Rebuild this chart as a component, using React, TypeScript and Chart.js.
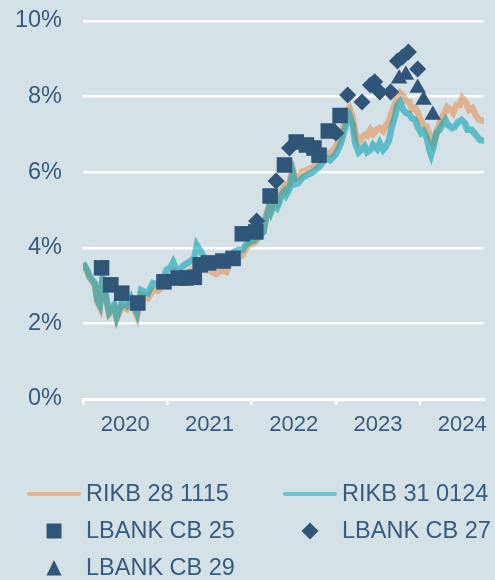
import React, { useEffect, useRef } from 'react';
import { Chart, registerables } from 'chart.js';

Chart.register(...registerables);

// ---------- DATA ----------
const seriesLabels = ['RIKB 28 1115', 'RIKB 31 0124', 'LBANK CB 25', 'LBANK CB 27', 'LBANK CB 29'];
const yearTickLabels = ['2020', '2021', '2022', '2023', '2024'];
const yTickValues = [0, 2, 4, 6, 8, 10];

const rikb28Years = [
  2020.00, 2020.05, 2020.08, 2020.14, 2020.17, 2020.20, 2020.23, 2020.27, 2020.31, 2020.37,
  2020.40, 2020.46, 2020.52, 2020.57, 2020.64, 2020.69, 2020.77, 2020.83, 2020.89, 2020.95,
  2020.99, 2021.04, 2021.07, 2021.12, 2021.20, 2021.26, 2021.32, 2021.35, 2021.40, 2021.44,
  2021.50, 2021.58, 2021.65, 2021.70, 2021.73, 2021.79, 2021.84, 2021.89, 2021.93, 2021.97,
  2022.04, 2022.10, 2022.14, 2022.16, 2022.18, 2022.21, 2022.23, 2022.26, 2022.30, 2022.33,
  2022.36, 2022.39, 2022.41, 2022.45, 2022.47, 2022.49, 2022.52, 2022.55, 2022.60, 2022.66,
  2022.71, 2022.76, 2022.82, 2022.88, 2022.93, 2023.00, 2023.06, 2023.11, 2023.14, 2023.16,
  2023.20, 2023.23, 2023.27, 2023.30, 2023.34, 2023.37, 2023.41, 2023.44, 2023.49, 2023.52,
  2023.56, 2023.59, 2023.63, 2023.66, 2023.70, 2023.73, 2023.76, 2023.80, 2023.83, 2023.87,
  2023.90, 2023.94, 2023.97, 2024.01, 2024.04, 2024.08, 2024.11, 2024.15, 2024.18, 2024.21,
  2024.25, 2024.29, 2024.32, 2024.36, 2024.39, 2024.43, 2024.47, 2024.50, 2024.54, 2024.58,
  2024.62, 2024.66, 2024.70, 2024.76,
];
const rikb28Values = [
  3.58, 3.39, 3.20, 3.02, 2.57, 2.43, 3.04, 2.67, 2.25, 2.41,
  2.12, 2.46, 2.38, 2.59, 2.20, 2.75, 2.67, 2.88, 2.86, 2.99,
  3.20, 3.28, 3.36, 3.20, 3.31, 3.36, 3.47, 3.62, 3.52, 3.41,
  3.41, 3.31, 3.41, 3.36, 3.52, 3.68, 3.73, 3.81, 3.97, 4.07,
  4.15, 4.31, 4.42, 4.68, 4.92, 5.13, 5.00, 5.21, 5.16, 5.32,
  5.53, 5.63, 5.53, 5.69, 5.93, 6.06, 5.85, 5.87, 6.01, 6.06,
  6.11, 6.19, 6.32, 6.53, 6.48, 6.67, 6.96, 7.38, 7.65, 7.70,
  7.43, 7.04, 6.80, 6.90, 6.98, 6.96, 7.12, 7.01, 7.14, 7.17,
  7.09, 7.22, 7.33, 7.57, 7.80, 7.99, 8.10, 8.02, 7.88, 7.86,
  7.67, 7.70, 7.57, 7.35, 7.25, 7.20, 6.98, 6.77, 6.90, 7.17,
  7.41, 7.57, 7.72, 7.65, 7.57, 7.78, 7.78, 7.96, 7.86, 7.65,
  7.70, 7.51, 7.38, 7.35,
];

const rikb31Years = [
  2020.00, 2020.05, 2020.08, 2020.14, 2020.17, 2020.20, 2020.23, 2020.27, 2020.31, 2020.37,
  2020.40, 2020.46, 2020.52, 2020.57, 2020.64, 2020.69, 2020.77, 2020.83, 2020.89, 2020.95,
  2020.99, 2021.04, 2021.07, 2021.12, 2021.20, 2021.26, 2021.32, 2021.35, 2021.40, 2021.44,
  2021.50, 2021.58, 2021.65, 2021.70, 2021.73, 2021.79, 2021.84, 2021.89, 2021.93, 2021.97,
  2022.04, 2022.10, 2022.14, 2022.16, 2022.18, 2022.21, 2022.23, 2022.26, 2022.30, 2022.33,
  2022.36, 2022.39, 2022.41, 2022.45, 2022.47, 2022.49, 2022.52, 2022.55, 2022.60, 2022.66,
  2022.71, 2022.76, 2022.82, 2022.88, 2022.93, 2023.00, 2023.06, 2023.11, 2023.14, 2023.16,
  2023.20, 2023.23, 2023.27, 2023.30, 2023.34, 2023.37, 2023.41, 2023.44, 2023.49, 2023.52,
  2023.56, 2023.59, 2023.63, 2023.66, 2023.70, 2023.73, 2023.76, 2023.80, 2023.83, 2023.87,
  2023.90, 2023.94, 2023.97, 2024.01, 2024.04, 2024.08, 2024.11, 2024.13, 2024.16, 2024.19,
  2024.23, 2024.26, 2024.30, 2024.33, 2024.38, 2024.41, 2024.45, 2024.49, 2024.53, 2024.56,
  2024.61, 2024.64, 2024.68, 2024.71, 2024.76,
];
const rikb31Values = [
  3.60, 3.41, 3.23, 3.07, 2.62, 2.49, 3.17, 2.75, 2.30, 2.49,
  2.17, 2.54, 2.46, 2.67, 2.28, 2.88, 2.80, 3.07, 3.02, 3.17,
  3.41, 3.49, 3.62, 3.36, 3.54, 3.62, 3.73, 4.07, 3.89, 3.73,
  3.68, 3.62, 3.68, 3.60, 3.73, 3.89, 3.94, 3.94, 4.07, 4.15,
  4.21, 4.34, 4.42, 4.68, 4.87, 5.08, 4.95, 5.13, 5.05, 5.21,
  5.42, 5.50, 5.40, 5.56, 5.82, 5.98, 5.69, 5.71, 5.85, 5.93,
  5.98, 6.06, 6.19, 6.38, 6.32, 6.48, 6.77, 7.17, 7.43, 7.51,
  7.25, 6.77, 6.53, 6.59, 6.69, 6.53, 6.59, 6.72, 6.61, 6.77,
  6.59, 6.67, 6.85, 7.17, 7.46, 7.78, 7.86, 7.65, 7.57, 7.54,
  7.43, 7.38, 7.20, 7.04, 7.09, 6.90, 6.59, 6.46, 6.69, 7.04,
  7.12, 7.25, 7.38, 7.25, 7.17, 7.20, 7.33, 7.38, 7.30, 7.12,
  7.12, 7.04, 6.93, 6.85, 6.83,
];

const cb25Years = [
  2020.22, 2020.33, 2020.46, 2020.65, 2020.96, 2021.13, 2021.22, 2021.32, 2021.39, 2021.49,
  2021.66, 2021.78, 2021.89, 2022.05, 2022.22, 2022.39, 2022.53, 2022.65, 2022.74, 2022.80,
  2022.91, 2023.05,
];
const cb25Values = [
  3.47, 3.02, 2.80, 2.54, 3.10, 3.20, 3.20, 3.22, 3.55, 3.60,
  3.65, 3.72, 4.37, 4.42, 5.37, 6.19, 6.80, 6.72, 6.64, 6.45,
  7.09, 7.50,
];

const cb27Years = [
  2022.06, 2022.29, 2022.45, 2023.00, 2023.14, 2023.31, 2023.41, 2023.46, 2023.52, 2023.65,
  2023.73, 2023.79, 2023.86, 2023.97,
];
const cb27Values = [
  4.71, 5.77, 6.64, 7.04, 8.04, 7.86, 8.31, 8.39, 8.12, 8.12,
  8.94, 9.05, 9.18, 8.73,
];

const cb29Years = [2023.75, 2023.83, 2023.97, 2024.04, 2024.15];
const cb29Values = [8.47, 8.57, 8.23, 7.91, 7.51];

// ---------- STYLE ----------
const BG = '#d4e1e7';
const TEXT = '#375b7e';
const MARK = '#2f5679';
const TAN = 'rgba(228, 145, 88, 0.6)';
const TEAL = 'rgba(20, 165, 180, 0.62)';
const TAN_LEGEND = '#dfb495';
const TEAL_LEGEND = '#6fc1cc';
const FONT = '"Liberation Sans", Arial, Helvetica, sans-serif';

const toXY = (xs: number[], ys: number[]) => xs.map((x, i) => ({ x, y: ys[i] }));

const legendPlugin = {
  id: 'customLegend',
  afterDraw(chart: any) {
    const ctx = chart.ctx as CanvasRenderingContext2D;
    const colX = [54, 310];
    const rowY = [494, 531, 568];
    const items = [
      { kind: 'line', color: TAN_LEGEND, col: 0, row: 0 },
      { kind: 'line', color: TEAL_LEGEND, col: 1, row: 0 },
      { kind: 'rect', color: MARK, col: 0, row: 1 },
      { kind: 'diamond', color: MARK, col: 1, row: 1 },
      { kind: 'triangle', color: MARK, col: 0, row: 2 },
    ];
    ctx.save();
    items.forEach((it, i) => {
      const cx = colX[it.col];
      const cy = rowY[it.row];
      ctx.fillStyle = it.color;
      ctx.strokeStyle = it.color;
      if (it.kind === 'line') {
        ctx.lineWidth = 4;
        ctx.lineCap = 'round';
        ctx.beginPath();
        ctx.moveTo(cx - 25, cy);
        ctx.lineTo(cx + 25, cy);
        ctx.stroke();
      } else if (it.kind === 'rect') {
        ctx.fillRect(cx - 7.5, cy - 7.5, 15, 15);
      } else if (it.kind === 'diamond') {
        ctx.beginPath();
        ctx.moveTo(cx, cy - 8.5);
        ctx.lineTo(cx + 8.5, cy);
        ctx.lineTo(cx, cy + 8.5);
        ctx.lineTo(cx - 8.5, cy);
        ctx.closePath();
        ctx.fill();
      } else {
        ctx.beginPath();
        ctx.moveTo(cx, cy - 8);
        ctx.lineTo(cx + 7.5, cy + 7.5);
        ctx.lineTo(cx - 7.5, cy + 7.5);
        ctx.closePath();
        ctx.fill();
      }
      ctx.fillStyle = TEXT;
      ctx.font = `23.5px ${FONT}`;
      ctx.textBaseline = 'middle';
      ctx.textAlign = 'left';
      ctx.fillText(seriesLabels[i], cx + 32, cy + 1);
    });
    ctx.restore();
  },
};

export default function App() {
  const ref = useRef<HTMLCanvasElement | null>(null);

  useEffect(() => {
    document.body.style.margin = '0';
    document.body.style.background = BG;
    const canvas = ref.current;
    if (!canvas) return;
    const xTicks: number[] = [];
    yearTickLabels.forEach((y) => {
      xTicks.push(Number(y));
      xTicks.push(Number(y) + 0.5);
    });

    const chart = new Chart(canvas, {
      type: 'scatter',
      data: {
        datasets: [
          {
            label: seriesLabels[2],
            data: toXY(cb25Years, cb25Values),
            pointStyle: 'rect',
            pointRadius: 11,
            backgroundColor: MARK,
            borderColor: MARK,
            borderWidth: 0,
            order: 0,
          },
          {
            label: seriesLabels[3],
            data: toXY(cb27Years, cb27Values),
            pointStyle: 'rectRot',
            pointRadius: 8.5,
            backgroundColor: MARK,
            borderColor: MARK,
            borderWidth: 0,
            order: 0,
          },
          {
            label: seriesLabels[4],
            data: toXY(cb29Years, cb29Values),
            pointStyle: 'triangle',
            pointRadius: 9.5,
            backgroundColor: MARK,
            borderColor: MARK,
            borderWidth: 0,
            order: 0,
          },
          {
            label: seriesLabels[1],
            data: toXY(rikb31Years, rikb31Values),
            showLine: true,
            borderColor: TEAL,
            borderWidth: 6.5,
            pointRadius: 0,
            tension: 0,
            order: 1,
          },
          {
            label: seriesLabels[0],
            data: toXY(rikb28Years, rikb28Values),
            showLine: true,
            borderColor: TAN,
            borderWidth: 6.5,
            pointRadius: 0,
            tension: 0,
            order: 2,
          },
        ],
      },
      options: {
        animation: false,
        responsive: false,
        maintainAspectRatio: false,
        layout: { padding: { top: 21, right: 0, bottom: 136, left: 0 } },
        plugins: {
          legend: { display: false },
          tooltip: { enabled: false },
        },
        scales: {
          x: {
            type: 'linear',
            min: 2020,
            max: 2024.757,
            afterBuildTicks: (scale: any) => {
              scale.ticks = xTicks.map((v) => ({ value: v }));
            },
            afterFit: (scale: any) => {
              scale.height = 45;
              scale.paddingLeft = 0;
              scale.paddingRight = 0;
            },
            ticks: {
              autoSkip: false,
              maxRotation: 0,
              minRotation: 0,
              padding: 7,
              color: TEXT,
              font: { family: FONT, size: 22 },
              callback: (v: any) => (Number.isInteger(v) ? '' : String(Math.floor(v))),
            },
            grid: {
              drawOnChartArea: false,
              drawTicks: true,
              tickLength: 6,
              lineWidth: 2.5,
              color: (c: any) => (c.tick && Number.isInteger(c.tick.value) ? '#ffffff' : 'rgba(0,0,0,0)'),
            },
            border: { display: true, color: '#ffffff', width: 3 },
          },
          y: {
            min: 0,
            max: 10,
            afterBuildTicks: (scale: any) => {
              scale.ticks = yTickValues.map((v) => ({ value: v }));
            },
            afterFit: (scale: any) => {
              scale.width = 83;
              scale.paddingTop = 0;
              scale.paddingBottom = 0;
            },
            ticks: {
              padding: 21,
              color: TEXT,
              font: { family: FONT, size: 23.5 },
              callback: (v: any) => `${v}%`,
            },
            grid: {
              drawTicks: false,
              lineWidth: 2.5,
              color: '#ffffff',
            },
            border: { display: false },
          },
        },
      },
      plugins: [legendPlugin],
    });

    return () => chart.destroy();
  }, []);

  return (
    <div style={{ width: 495, height: 580, background: BG }}>
      <canvas ref={ref} width={495} height={580} style={{ display: 'block', width: 495, height: 580 }} />
    </div>
  );
}
